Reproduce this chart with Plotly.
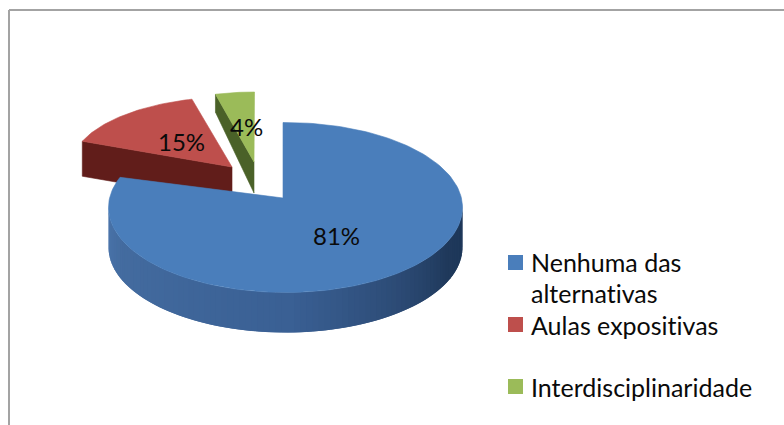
import math
import plotly.graph_objects as go

# Data
categories = ["Nenhuma das<br>alternativas", "Aulas expositivas", "Interdisciplinaridade"]
values = [81, 15, 4]
value_labels = ["81%", "15%", "4%"]
top_colors = ["#4a7ebb", "#be4f4c", "#9bbb59"]
W, H = 784, 425


def rgb(c):
    return f"rgb({int(c[0])},{int(c[1])},{int(c[2])})"


def lerp(stops, t):
    for (t0, c0), (t1, c1) in zip(stops, stops[1:]):
        if t <= t1:
            f = (t - t0) / (t1 - t0) if t1 > t0 else 0
            return [a + (b - a) * f for a, b in zip(c0, c1)]
    return stops[-1][1]


# Projected look of each exploded wedge (screen geometry, not data)
views = [
    dict(apex=(283, 198), c=(285.5, 207.5), rx=177, ry=85, rot=-0.8),
    dict(apex=(232, 167), c=(232, 167), rx=161, ry=70, rot=0),
    dict(apex=(254, 162), c=(254.5, 162), rx=157, ry=70, rot=0),
]
total = sum(values)
spans = []
acc = 0
for v in values:
    spans.append((acc / total * 360, (acc + v) / total * 360))
    acc += v


def rim(view, deg):
    a = math.radians(deg + view["rot"])
    return view["c"][0] + view["rx"] * math.sin(a), view["c"][1] - view["ry"] * math.cos(a)


def arc(view, a0, a1, n=90):
    pts = [rim(view, a0 + (a1 - a0) * i / n) for i in range(n + 1)]
    return [p[0] for p in pts], [p[1] for p in pts]


fig = go.Figure()


def poly(xs, ys, color, name, lw=0.6):
    fig.add_trace(go.Scatter(x=list(xs) + [xs[0]], y=list(ys) + [ys[0]], mode="lines", fill="toself",
                             fillcolor=color, line=dict(color=color, width=lw),
                             name=name, hoverinfo="skip", showlegend=False))


names = ["Nenhuma das alternativas", "Aulas expositivas", "Interdisciplinaridade"]

# Green wedge: dark cut face, then top
g = views[2]
g0, g1 = spans[2]
gx, gy = rim(g, g0)
poly([gx, g["apex"][0], g["apex"][0], gx], [gy, g["apex"][1], g["apex"][1] + 31, gy + 18], "#4a6128", names[2])
xs, ys = arc(g, g0, g1, 20)
poly(xs + [g["apex"][0]], ys + [g["apex"][1]], top_colors[2], names[2])

# Red wedge: dark cut face, then top
r = views[1]
r0, r1 = spans[1]
rx0, ry0 = rim(r, r0)
poly([rx0, r["apex"][0], r["apex"][0], rx0], [ry0, r["apex"][1], r["apex"][1] + 35, ry0 + 35], "#611d1a", names[1])
xs, ys = arc(r, r0, r1, 40)
poly(xs + [r["apex"][0]], ys + [r["apex"][1]], top_colors[1], names[1])

# Blue wedge: shaded rim wall in overlapping strips, then top
b = views[0]
b0, b1 = spans[0]
depth = 40
side_stops = [(0.0, (74, 116, 170)), (0.12, (68, 108, 160)), (0.5, (58, 96, 148)),
              (0.72, (44, 74, 116)), (0.85, (32, 58, 92)), (1.0, (28, 54, 88))]
n_strips = 90
for i in range(n_strips):
    a0 = 270 - 180 * i / n_strips
    a1 = max(90, 270 - 180 * (i + 2) / n_strips)
    xs, ys = arc(b, a0, a1, 3)
    xb = xs + xs[::-1]
    yb = ys + [y + depth for y in ys[::-1]]
    poly(xb, yb, rgb(lerp(side_stops, i / n_strips)), names[0], lw=0)
xs, ys = arc(b, b0, b1, 180)
poly(xs + [b["apex"][0]], ys + [b["apex"][1]], top_colors[0], names[0])

# Legend swatches
legend_x = [515.5, 515.5, 515.5]
legend_y = [262.5, 324.5, 386.5]
fig.add_trace(go.Scatter(x=legend_x, y=legend_y, mode="markers",
                         marker=dict(symbol="square", size=15, color=top_colors, line=dict(width=0)),
                         hoverinfo="skip", showlegend=False))

annotations = []
family = "Lato, Carlito, Calibri, sans-serif"
value_font = dict(family=family, size=24, color="#0a0a0a")
legend_font = dict(family=family, size=25, color="#0a0a0a")
for lbl, x, y in zip(value_labels, [336, 181, 246], [235, 141, 126]):
    annotations.append(dict(x=x, y=y, text=lbl, showarrow=False, xanchor="center", yanchor="middle", font=value_font))
for cat, ly in zip(categories, [262, 325, 387]):
    for j, line in enumerate(cat.split("<br>")):
        annotations.append(dict(x=529, y=ly + 31 * j, text=line, showarrow=False, xanchor="left", yanchor="middle",
                                align="left", font=legend_font))

frame = dict(type="line", line=dict(color="#a3a3a3", width=2), layer="below")
shapes = [
    dict(x0=9, y0=10, x1=784, y1=10, **frame),
    dict(x0=9, y0=10, x1=9, y1=425, **frame),
]

fig.update_layout(
    width=W, height=H, margin=dict(l=0, r=0, t=0, b=0), autosize=False,
    paper_bgcolor="white", plot_bgcolor="white", showlegend=False,
    annotations=annotations, shapes=shapes,
    xaxis=dict(range=[0, W], visible=False, fixedrange=True),
    yaxis=dict(range=[H, 0], visible=False, fixedrange=True),
)
page_css = (
    "var s=document.createElement('style');"
    "s.textContent='html,body{margin:0;padding:0;overflow:hidden}text{font-variant-ligatures:none!important}';"
    "document.head.appendChild(s);"
)
fig.write_html("out.html", post_script=page_css, config=dict(displayModeBar=False))
